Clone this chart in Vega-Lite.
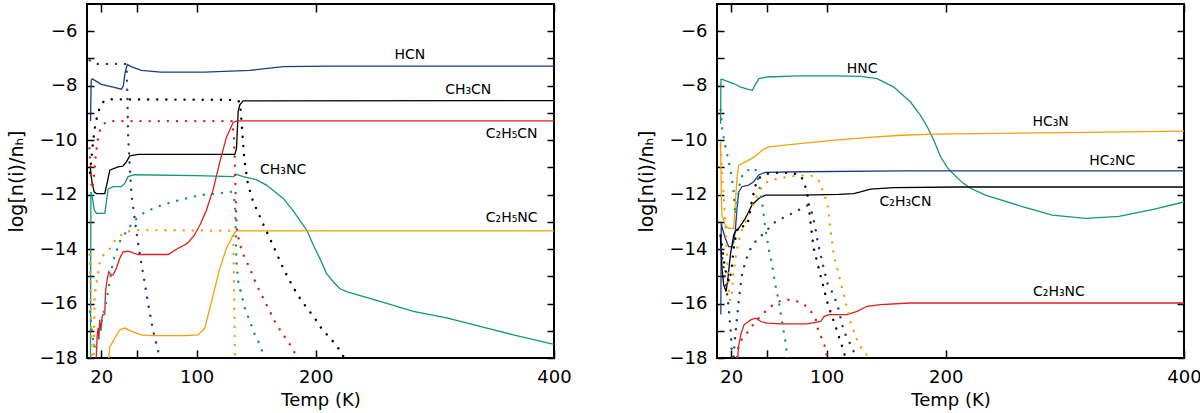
{
"$schema":"https://vega.github.io/schema/vega-lite/v6.json",
"padding":{"left":6,"top":2,"right":5,"bottom":0},
"spacing":63,
"datasets":{
"c":[
{"s":"HCN","f":"g","T":11,"v":-9.3},{"s":"HCN","f":"g","T":11.5,"v":-7.8},{"s":"HCN","f":"g","T":12.5,"v":-7.75},{"s":"HCN","f":"g","T":20,"v":-7.95},{"s":"HCN","f":"g","T":30,"v":-8.05},{"s":"HCN","f":"g","T":36.9,"v":-8.13},{"s":"HCN","f":"g","T":38.5,"v":-8.0},{"s":"HCN","f":"g","T":40,"v":-7.5},{"s":"HCN","f":"g","T":41.9,"v":-7.22},{"s":"HCN","f":"g","T":45,"v":-7.3},{"s":"HCN","f":"g","T":53.7,"v":-7.44},{"s":"HCN","f":"g","T":70,"v":-7.5},{"s":"HCN","f":"g","T":106.9,"v":-7.5},{"s":"HCN","f":"g","T":144.7,"v":-7.44},{"s":"HCN","f":"g","T":172.7,"v":-7.3},{"s":"HCN","f":"g","T":211.9,"v":-7.28},{"s":"HCN","f":"g","T":400,"v":-7.28},
{"s":"CH₃CN","f":"g","T":10.8,"v":-11.0},{"s":"CH₃CN","f":"g","T":12,"v":-11.5},{"s":"CH₃CN","f":"g","T":14,"v":-11.9},{"s":"CH₃CN","f":"g","T":15.9,"v":-11.96},{"s":"CH₃CN","f":"g","T":22.9,"v":-11.96},{"s":"CH₃CN","f":"g","T":25.1,"v":-11.53},{"s":"CH₃CN","f":"g","T":27.1,"v":-11.1},{"s":"CH₃CN","f":"g","T":34.1,"v":-10.98},{"s":"CH₃CN","f":"g","T":38.3,"v":-10.95},{"s":"CH₃CN","f":"g","T":41.1,"v":-10.8},{"s":"CH₃CN","f":"g","T":43.9,"v":-10.58},{"s":"CH₃CN","f":"g","T":50.9,"v":-10.52},{"s":"CH₃CN","f":"g","T":132.1,"v":-10.52},{"s":"CH₃CN","f":"g","T":133.5,"v":-10.3},{"s":"CH₃CN","f":"g","T":134.9,"v":-8.95},{"s":"CH₃CN","f":"g","T":136.3,"v":-8.7},{"s":"CH₃CN","f":"g","T":139.1,"v":-8.56},{"s":"CH₃CN","f":"g","T":400,"v":-8.55},
{"s":"C₂H₅CN","f":"g","T":15.5,"v":-18.3},{"s":"C₂H₅CN","f":"g","T":16.5,"v":-17.2},{"s":"C₂H₅CN","f":"g","T":17.3,"v":-16.9},{"s":"C₂H₅CN","f":"g","T":18,"v":-17.3},{"s":"C₂H₅CN","f":"g","T":18.7,"v":-16.6},{"s":"C₂H₅CN","f":"g","T":19.5,"v":-17.0},{"s":"C₂H₅CN","f":"g","T":20.1,"v":-16.8},{"s":"C₂H₅CN","f":"g","T":20.6,"v":-16.5},{"s":"C₂H₅CN","f":"g","T":21.5,"v":-16.4},{"s":"C₂H₅CN","f":"g","T":22.9,"v":-16.4},{"s":"C₂H₅CN","f":"g","T":23.5,"v":-15.6},{"s":"C₂H₅CN","f":"g","T":24.3,"v":-15.3},{"s":"C₂H₅CN","f":"g","T":25.7,"v":-14.95},{"s":"C₂H₅CN","f":"g","T":26.3,"v":-14.83},{"s":"C₂H₅CN","f":"g","T":28,"v":-14.95},{"s":"C₂H₅CN","f":"g","T":29.9,"v":-14.95},{"s":"C₂H₅CN","f":"g","T":32.7,"v":-14.7},{"s":"C₂H₅CN","f":"g","T":35.5,"v":-14.34},{"s":"C₂H₅CN","f":"g","T":38.3,"v":-14.1},{"s":"C₂H₅CN","f":"g","T":42.5,"v":-14.08},{"s":"C₂H₅CN","f":"g","T":50.9,"v":-14.2},{"s":"C₂H₅CN","f":"g","T":76.1,"v":-14.2},{"s":"C₂H₅CN","f":"g","T":84.5,"v":-13.97},{"s":"C₂H₅CN","f":"g","T":92,"v":-13.8},{"s":"C₂H₅CN","f":"g","T":98,"v":-13.5},{"s":"C₂H₅CN","f":"g","T":103,"v":-13.1},{"s":"C₂H₅CN","f":"g","T":108,"v":-12.6},{"s":"C₂H₅CN","f":"g","T":114,"v":-11.8},{"s":"C₂H₅CN","f":"g","T":119.5,"v":-10.8},{"s":"C₂H₅CN","f":"g","T":125,"v":-9.9},{"s":"C₂H₅CN","f":"g","T":130.7,"v":-9.35},{"s":"C₂H₅CN","f":"g","T":134,"v":-9.29},{"s":"C₂H₅CN","f":"g","T":400,"v":-9.29},
{"s":"CH₃NC","f":"g","T":10.9,"v":-18.3},{"s":"CH₃NC","f":"g","T":11.3,"v":-11.9},{"s":"CH₃NC","f":"g","T":12.5,"v":-12.1},{"s":"CH₃NC","f":"g","T":14,"v":-12.55},{"s":"CH₃NC","f":"g","T":15.9,"v":-12.69},{"s":"CH₃NC","f":"g","T":22.9,"v":-12.69},{"s":"CH₃NC","f":"g","T":24.3,"v":-12.26},{"s":"CH₃NC","f":"g","T":25.7,"v":-11.8},{"s":"CH₃NC","f":"g","T":29.9,"v":-11.71},{"s":"CH₃NC","f":"g","T":36.9,"v":-11.71},{"s":"CH₃NC","f":"g","T":39.7,"v":-11.59},{"s":"CH₃NC","f":"g","T":42.5,"v":-11.34},{"s":"CH₃NC","f":"g","T":48,"v":-11.27},{"s":"CH₃NC","f":"g","T":100,"v":-11.3},{"s":"CH₃NC","f":"g","T":130.7,"v":-11.34},{"s":"CH₃NC","f":"g","T":133.5,"v":-11.26},{"s":"CH₃NC","f":"g","T":139.1,"v":-11.34},{"s":"CH₃NC","f":"g","T":150,"v":-11.45},{"s":"CH₃NC","f":"g","T":158.7,"v":-11.65},{"s":"CH₃NC","f":"g","T":172.7,"v":-12.14},{"s":"CH₃NC","f":"g","T":181.1,"v":-12.6},{"s":"CH₃NC","f":"g","T":186.7,"v":-12.95},{"s":"CH₃NC","f":"g","T":192.8,"v":-13.33},{"s":"CH₃NC","f":"g","T":197.9,"v":-13.85},{"s":"CH₃NC","f":"g","T":203.5,"v":-14.35},{"s":"CH₃NC","f":"g","T":209.1,"v":-14.9},{"s":"CH₃NC","f":"g","T":214.7,"v":-15.2},{"s":"CH₃NC","f":"g","T":220,"v":-15.45},{"s":"CH₃NC","f":"g","T":225.9,"v":-15.56},{"s":"CH₃NC","f":"g","T":253.9,"v":-15.92},{"s":"CH₃NC","f":"g","T":281.9,"v":-16.29},{"s":"CH₃NC","f":"g","T":309.9,"v":-16.53},{"s":"CH₃NC","f":"g","T":337.9,"v":-16.84},{"s":"CH₃NC","f":"g","T":365.9,"v":-17.15},{"s":"CH₃NC","f":"g","T":400,"v":-17.5},
{"s":"C₂H₅NC","f":"g","T":25.5,"v":-18.3},{"s":"C₂H₅NC","f":"g","T":27.1,"v":-17.6},{"s":"C₂H₅NC","f":"g","T":31.3,"v":-17.27},{"s":"C₂H₅NC","f":"g","T":35.5,"v":-16.96},{"s":"C₂H₅NC","f":"g","T":39.7,"v":-16.9},{"s":"C₂H₅NC","f":"g","T":45.3,"v":-17.02},{"s":"C₂H₅NC","f":"g","T":53.7,"v":-17.15},{"s":"C₂H₅NC","f":"g","T":62.1,"v":-17.18},{"s":"C₂H₅NC","f":"g","T":90.1,"v":-17.18},{"s":"C₂H₅NC","f":"g","T":101.3,"v":-17.15},{"s":"C₂H₅NC","f":"g","T":106.9,"v":-16.9},{"s":"C₂H₅NC","f":"g","T":108.3,"v":-16.66},{"s":"C₂H₅NC","f":"g","T":113.9,"v":-15.68},{"s":"C₂H₅NC","f":"g","T":119.5,"v":-14.7},{"s":"C₂H₅NC","f":"g","T":125.1,"v":-13.97},{"s":"C₂H₅NC","f":"g","T":130.7,"v":-13.48},{"s":"C₂H₅NC","f":"g","T":133.5,"v":-13.33},{"s":"C₂H₅NC","f":"g","T":400,"v":-13.33},
{"s":"HCN","f":"i","T":10.3,"v":-7.07},{"s":"HCN","f":"i","T":14.5,"v":-7.2},{"s":"HCN","f":"i","T":41.1,"v":-7.2},{"s":"HCN","f":"i","T":41.9,"v":-8.35},{"s":"HCN","f":"i","T":42.5,"v":-9.8},{"s":"HCN","f":"i","T":43.9,"v":-10.96},{"s":"HCN","f":"i","T":45.3,"v":-12},{"s":"HCN","f":"i","T":48.1,"v":-12.9},{"s":"HCN","f":"i","T":50.9,"v":-13.8},{"s":"HCN","f":"i","T":55.1,"v":-14.9},{"s":"HCN","f":"i","T":59.3,"v":-16.0},{"s":"HCN","f":"i","T":63.5,"v":-17.0},{"s":"HCN","f":"i","T":69.1,"v":-18},{"s":"HCN","f":"i","T":70,"v":-18.3},
{"s":"CH₃CN","f":"i","T":10.5,"v":-11.2},{"s":"CH₃CN","f":"i","T":11.7,"v":-10.67},{"s":"CH₃CN","f":"i","T":13.1,"v":-10.06},{"s":"CH₃CN","f":"i","T":14.5,"v":-9.57},{"s":"CH₃CN","f":"i","T":17.3,"v":-8.96},{"s":"CH₃CN","f":"i","T":21.5,"v":-8.6},{"s":"CH₃CN","f":"i","T":25.7,"v":-8.5},{"s":"CH₃CN","f":"i","T":133,"v":-8.52},{"s":"CH₃CN","f":"i","T":136.5,"v":-8.6},{"s":"CH₃CN","f":"i","T":138,"v":-9.5},{"s":"CH₃CN","f":"i","T":140,"v":-10.7},{"s":"CH₃CN","f":"i","T":143,"v":-11.6},{"s":"CH₃CN","f":"i","T":147,"v":-12.2},{"s":"CH₃CN","f":"i","T":155,"v":-13.0},{"s":"CH₃CN","f":"i","T":164,"v":-13.85},{"s":"CH₃CN","f":"i","T":172.6,"v":-14.7},{"s":"CH₃CN","f":"i","T":181,"v":-15.4},{"s":"CH₃CN","f":"i","T":188,"v":-15.9},{"s":"CH₃CN","f":"i","T":195,"v":-16.3},{"s":"CH₃CN","f":"i","T":201,"v":-16.65},{"s":"CH₃CN","f":"i","T":206,"v":-17.0},{"s":"CH₃CN","f":"i","T":212,"v":-17.25},{"s":"CH₃CN","f":"i","T":220,"v":-17.7},{"s":"CH₃CN","f":"i","T":224,"v":-18},{"s":"CH₃CN","f":"i","T":226,"v":-18.3},
{"s":"C₂H₅CN","f":"i","T":10,"v":-10.3},{"s":"C₂H₅CN","f":"i","T":11,"v":-11},{"s":"C₂H₅CN","f":"i","T":12,"v":-11.8},{"s":"C₂H₅CN","f":"i","T":13.5,"v":-11.5},{"s":"C₂H₅CN","f":"i","T":15,"v":-10.7},{"s":"C₂H₅CN","f":"i","T":17,"v":-10},{"s":"C₂H₅CN","f":"i","T":19,"v":-9.6},{"s":"C₂H₅CN","f":"i","T":22,"v":-9.4},{"s":"C₂H₅CN","f":"i","T":26,"v":-9.3},{"s":"C₂H₅CN","f":"i","T":130,"v":-9.3},{"s":"C₂H₅CN","f":"i","T":131.5,"v":-10},{"s":"C₂H₅CN","f":"i","T":132.5,"v":-11.5},{"s":"C₂H₅CN","f":"i","T":133.5,"v":-13.2},{"s":"C₂H₅CN","f":"i","T":136,"v":-13.8},{"s":"C₂H₅CN","f":"i","T":140.5,"v":-14.34},{"s":"C₂H₅CN","f":"i","T":144.7,"v":-14.7},{"s":"C₂H₅CN","f":"i","T":150.3,"v":-15.31},{"s":"C₂H₅CN","f":"i","T":155.9,"v":-15.8},{"s":"C₂H₅CN","f":"i","T":161.5,"v":-16.29},{"s":"C₂H₅CN","f":"i","T":167.1,"v":-16.78},{"s":"C₂H₅CN","f":"i","T":172.7,"v":-17.14},{"s":"C₂H₅CN","f":"i","T":178.3,"v":-17.5},{"s":"C₂H₅CN","f":"i","T":183.9,"v":-17.93},{"s":"C₂H₅CN","f":"i","T":185,"v":-18.3},
{"s":"CH₃NC","f":"i","T":10.5,"v":-16.3},{"s":"CH₃NC","f":"i","T":12,"v":-17},{"s":"CH₃NC","f":"i","T":14,"v":-17.6},{"s":"CH₃NC","f":"i","T":16,"v":-17.5},{"s":"CH₃NC","f":"i","T":18.6,"v":-17.15},{"s":"CH₃NC","f":"i","T":21,"v":-16.5},{"s":"CH₃NC","f":"i","T":24.2,"v":-15.92},{"s":"CH₃NC","f":"i","T":27,"v":-15.19},{"s":"CH₃NC","f":"i","T":29.8,"v":-14.46},{"s":"CH₃NC","f":"i","T":35.4,"v":-13.73},{"s":"CH₃NC","f":"i","T":41,"v":-13.36},{"s":"CH₃NC","f":"i","T":46.6,"v":-13.0},{"s":"CH₃NC","f":"i","T":55,"v":-12.69},{"s":"CH₃NC","f":"i","T":66.2,"v":-12.45},{"s":"CH₃NC","f":"i","T":80.2,"v":-12.26},{"s":"CH₃NC","f":"i","T":102.6,"v":-12.02},{"s":"CH₃NC","f":"i","T":116.6,"v":-11.96},{"s":"CH₃NC","f":"i","T":129.3,"v":-11.9},{"s":"CH₃NC","f":"i","T":132.1,"v":-12.26},{"s":"CH₃NC","f":"i","T":133,"v":-13.48},{"s":"CH₃NC","f":"i","T":133.5,"v":-14.46},{"s":"CH₃NC","f":"i","T":134.9,"v":-15.19},{"s":"CH₃NC","f":"i","T":137.7,"v":-15.68},{"s":"CH₃NC","f":"i","T":140.5,"v":-16.17},{"s":"CH₃NC","f":"i","T":144.7,"v":-16.66},{"s":"CH₃NC","f":"i","T":148.9,"v":-17.15},{"s":"CH₃NC","f":"i","T":153.1,"v":-17.5},{"s":"CH₃NC","f":"i","T":155.9,"v":-17.88},{"s":"CH₃NC","f":"i","T":157,"v":-18.3},
{"s":"C₂H₅NC","f":"i","T":10.3,"v":-14.2},{"s":"C₂H₅NC","f":"i","T":11.2,"v":-16},{"s":"C₂H₅NC","f":"i","T":12,"v":-18.5},{"s":"C₂H₅NC","f":"i","T":13.5,"v":-18.5},{"s":"C₂H₅NC","f":"i","T":14.4,"v":-15.7},{"s":"C₂H₅NC","f":"i","T":18.6,"v":-14.5},{"s":"C₂H₅NC","f":"i","T":22,"v":-14.2},{"s":"C₂H₅NC","f":"i","T":27,"v":-14.0},{"s":"C₂H₅NC","f":"i","T":32.6,"v":-13.6},{"s":"C₂H₅NC","f":"i","T":41,"v":-13.36},{"s":"C₂H₅NC","f":"i","T":52,"v":-13.3},{"s":"C₂H₅NC","f":"i","T":130.8,"v":-13.33},{"s":"C₂H₅NC","f":"i","T":131.3,"v":-15},{"s":"C₂H₅NC","f":"i","T":131.8,"v":-16.5},{"s":"C₂H₅NC","f":"i","T":132.3,"v":-18.5},
{"s":"HNC","f":"g","T":11,"v":-9.4},{"s":"HNC","f":"g","T":11.3,"v":-7.77},{"s":"HNC","f":"g","T":12.5,"v":-7.77},{"s":"HNC","f":"g","T":16.7,"v":-7.84},{"s":"HNC","f":"g","T":22.3,"v":-7.93},{"s":"HNC","f":"g","T":27.9,"v":-8.05},{"s":"HNC","f":"g","T":33.5,"v":-8.13},{"s":"HNC","f":"g","T":37.7,"v":-8.17},{"s":"HNC","f":"g","T":40.5,"v":-7.93},{"s":"HNC","f":"g","T":43.3,"v":-7.74},{"s":"HNC","f":"g","T":50.3,"v":-7.68},{"s":"HNC","f":"g","T":75.5,"v":-7.64},{"s":"HNC","f":"g","T":106.3,"v":-7.64},{"s":"HNC","f":"g","T":128.4,"v":-7.66},{"s":"HNC","f":"g","T":142.4,"v":-7.74},{"s":"HNC","f":"g","T":156.4,"v":-8.05},{"s":"HNC","f":"g","T":170.4,"v":-8.6},{"s":"HNC","f":"g","T":178.8,"v":-9.09},{"s":"HNC","f":"g","T":184.4,"v":-9.5},{"s":"HNC","f":"g","T":190,"v":-10.0},{"s":"HNC","f":"g","T":195.6,"v":-10.6},{"s":"HNC","f":"g","T":201.2,"v":-11.0},{"s":"HNC","f":"g","T":205.4,"v":-11.2},{"s":"HNC","f":"g","T":213.8,"v":-11.55},{"s":"HNC","f":"g","T":220,"v":-11.75},{"s":"HNC","f":"g","T":233.4,"v":-12.02},{"s":"HNC","f":"g","T":261.4,"v":-12.4},{"s":"HNC","f":"g","T":289.4,"v":-12.75},{"s":"HNC","f":"g","T":317.4,"v":-12.87},{"s":"HNC","f":"g","T":345.4,"v":-12.8},{"s":"HNC","f":"g","T":373.4,"v":-12.55},{"s":"HNC","f":"g","T":400,"v":-12.27},
{"s":"HC₃N","f":"g","T":11,"v":-10.06},{"s":"HC₃N","f":"g","T":11.6,"v":-12.0},{"s":"HC₃N","f":"g","T":12.2,"v":-12.75},{"s":"HC₃N","f":"g","T":15,"v":-13.12},{"s":"HC₃N","f":"g","T":17.8,"v":-13.24},{"s":"HC₃N","f":"g","T":22,"v":-13.24},{"s":"HC₃N","f":"g","T":23.4,"v":-12.26},{"s":"HC₃N","f":"g","T":24.8,"v":-11.4},{"s":"HC₃N","f":"g","T":26.2,"v":-10.92},{"s":"HC₃N","f":"g","T":31.8,"v":-10.8},{"s":"HC₃N","f":"g","T":37.4,"v":-10.67},{"s":"HC₃N","f":"g","T":43,"v":-10.49},{"s":"HC₃N","f":"g","T":45.8,"v":-10.37},{"s":"HC₃N","f":"g","T":51.4,"v":-10.25},{"s":"HC₃N","f":"g","T":79.4,"v":-10.12},{"s":"HC₃N","f":"g","T":107.4,"v":-10.0},{"s":"HC₃N","f":"g","T":135.4,"v":-9.9},{"s":"HC₃N","f":"g","T":163.4,"v":-9.82},{"s":"HC₃N","f":"g","T":190,"v":-9.78},{"s":"HC₃N","f":"g","T":228,"v":-9.76},{"s":"HC₃N","f":"g","T":300,"v":-9.72},{"s":"HC₃N","f":"g","T":400,"v":-9.67},
{"s":"HC₂NC","f":"g","T":11.2,"v":-16.4},{"s":"HC₂NC","f":"g","T":11.6,"v":-13.0},{"s":"HC₂NC","f":"g","T":12.2,"v":-13.2},{"s":"HC₂NC","f":"g","T":15,"v":-13.6},{"s":"HC₂NC","f":"g","T":17.8,"v":-13.91},{"s":"HC₂NC","f":"g","T":20.6,"v":-13.91},{"s":"HC₂NC","f":"g","T":22,"v":-13.73},{"s":"HC₂NC","f":"g","T":23.4,"v":-13.3},{"s":"HC₂NC","f":"g","T":24.8,"v":-12.5},{"s":"HC₂NC","f":"g","T":26.2,"v":-11.9},{"s":"HC₂NC","f":"g","T":29,"v":-11.71},{"s":"HC₂NC","f":"g","T":34.6,"v":-11.65},{"s":"HC₂NC","f":"g","T":38.8,"v":-11.53},{"s":"HC₂NC","f":"g","T":43,"v":-11.28},{"s":"HC₂NC","f":"g","T":48.6,"v":-11.18},{"s":"HC₂NC","f":"g","T":79.4,"v":-11.16},{"s":"HC₂NC","f":"g","T":163.4,"v":-11.13},{"s":"HC₂NC","f":"g","T":400,"v":-11.13},
{"s":"C₂H₃CN","f":"g","T":10.8,"v":-13.48},{"s":"C₂H₃CN","f":"g","T":12.2,"v":-14.7},{"s":"C₂H₃CN","f":"g","T":13.6,"v":-15.31},{"s":"C₂H₃CN","f":"g","T":15.6,"v":-15.56},{"s":"C₂H₃CN","f":"g","T":17.2,"v":-15.07},{"s":"C₂H₃CN","f":"g","T":19.2,"v":-14.22},{"s":"C₂H₃CN","f":"g","T":20.6,"v":-13.85},{"s":"C₂H₃CN","f":"g","T":22,"v":-13.48},{"s":"C₂H₃CN","f":"g","T":23.4,"v":-13.36},{"s":"C₂H₃CN","f":"g","T":26.2,"v":-13.24},{"s":"C₂H₃CN","f":"g","T":29,"v":-13.06},{"s":"C₂H₃CN","f":"g","T":31.8,"v":-12.87},{"s":"C₂H₃CN","f":"g","T":34.6,"v":-12.63},{"s":"C₂H₃CN","f":"g","T":37.4,"v":-12.38},{"s":"C₂H₃CN","f":"g","T":40.2,"v":-12.26},{"s":"C₂H₃CN","f":"g","T":43,"v":-12.14},{"s":"C₂H₃CN","f":"g","T":48.6,"v":-12.02},{"s":"C₂H₃CN","f":"g","T":79.4,"v":-12.02},{"s":"C₂H₃CN","f":"g","T":110,"v":-11.99},{"s":"C₂H₃CN","f":"g","T":122.8,"v":-11.96},{"s":"C₂H₃CN","f":"g","T":128.4,"v":-11.9},{"s":"C₂H₃CN","f":"g","T":136.8,"v":-11.8},{"s":"C₂H₃CN","f":"g","T":156.4,"v":-11.74},{"s":"C₂H₃CN","f":"g","T":210,"v":-11.72},{"s":"C₂H₃CN","f":"g","T":400,"v":-11.72},
{"s":"C₂H₃NC","f":"g","T":25,"v":-18.3},{"s":"C₂H₃NC","f":"g","T":26,"v":-17.6},{"s":"C₂H₃NC","f":"g","T":27.9,"v":-17.15},{"s":"C₂H₃NC","f":"g","T":30.7,"v":-16.78},{"s":"C₂H₃NC","f":"g","T":36.3,"v":-16.6},{"s":"C₂H₃NC","f":"g","T":40.5,"v":-16.54},{"s":"C₂H₃NC","f":"g","T":44.7,"v":-16.66},{"s":"C₂H₃NC","f":"g","T":50.3,"v":-16.72},{"s":"C₂H₃NC","f":"g","T":61.5,"v":-16.75},{"s":"C₂H₃NC","f":"g","T":83.9,"v":-16.75},{"s":"C₂H₃NC","f":"g","T":95.1,"v":-16.66},{"s":"C₂H₃NC","f":"g","T":97.9,"v":-16.47},{"s":"C₂H₃NC","f":"g","T":102.1,"v":-16.41},{"s":"C₂H₃NC","f":"g","T":117.2,"v":-16.41},{"s":"C₂H₃NC","f":"g","T":125.6,"v":-16.29},{"s":"C₂H₃NC","f":"g","T":134,"v":-16.1},{"s":"C₂H₃NC","f":"g","T":145.2,"v":-16.04},{"s":"C₂H₃NC","f":"g","T":170.4,"v":-15.98},{"s":"C₂H₃NC","f":"g","T":400,"v":-15.98},
{"s":"HNC","f":"i","T":11,"v":-8.9},{"s":"HNC","f":"i","T":12.5,"v":-9.64},{"s":"HNC","f":"i","T":13.9,"v":-10.0},{"s":"HNC","f":"i","T":16.7,"v":-10.55},{"s":"HNC","f":"i","T":19.5,"v":-11.16},{"s":"HNC","f":"i","T":21.7,"v":-11.77},{"s":"HNC","f":"i","T":22.8,"v":-12.38},{"s":"HNC","f":"i","T":23.7,"v":-12.75},{"s":"HNC","f":"i","T":25.1,"v":-12.26},{"s":"HNC","f":"i","T":26.5,"v":-11.77},{"s":"HNC","f":"i","T":27.9,"v":-11.41},{"s":"HNC","f":"i","T":30.7,"v":-11.2},{"s":"HNC","f":"i","T":33.5,"v":-11.1},{"s":"HNC","f":"i","T":37,"v":-11.1},{"s":"HNC","f":"i","T":40.2,"v":-11.04},{"s":"HNC","f":"i","T":43,"v":-11.53},{"s":"HNC","f":"i","T":45.8,"v":-12.26},{"s":"HNC","f":"i","T":48.6,"v":-13.24},{"s":"HNC","f":"i","T":51.4,"v":-13.97},{"s":"HNC","f":"i","T":54.2,"v":-14.58},{"s":"HNC","f":"i","T":57,"v":-15.31},{"s":"HNC","f":"i","T":59.8,"v":-15.92},{"s":"HNC","f":"i","T":62.6,"v":-16.66},{"s":"HNC","f":"i","T":65.4,"v":-17.39},{"s":"HNC","f":"i","T":66.8,"v":-17.88},{"s":"HNC","f":"i","T":67.6,"v":-18.3},
{"s":"HC₃N","f":"i","T":11,"v":-10.2},{"s":"HC₃N","f":"i","T":12.2,"v":-11.0},{"s":"HC₃N","f":"i","T":13.5,"v":-12.0},{"s":"HC₃N","f":"i","T":15,"v":-13.0},{"s":"HC₃N","f":"i","T":16.5,"v":-14.3},{"s":"HC₃N","f":"i","T":17.8,"v":-15.5},{"s":"HC₃N","f":"i","T":19,"v":-15.9},{"s":"HC₃N","f":"i","T":20.5,"v":-15.6},{"s":"HC₃N","f":"i","T":22,"v":-14.8},{"s":"HC₃N","f":"i","T":24,"v":-14.2},{"s":"HC₃N","f":"i","T":26.2,"v":-13.7},{"s":"HC₃N","f":"i","T":29,"v":-13.3},{"s":"HC₃N","f":"i","T":33,"v":-12.9},{"s":"HC₃N","f":"i","T":37,"v":-12.5},{"s":"HC₃N","f":"i","T":41,"v":-12.1},{"s":"HC₃N","f":"i","T":46,"v":-11.7},{"s":"HC₃N","f":"i","T":51,"v":-11.5},{"s":"HC₃N","f":"i","T":60,"v":-11.4},{"s":"HC₃N","f":"i","T":75,"v":-11.3},{"s":"HC₃N","f":"i","T":87,"v":-11.3},{"s":"HC₃N","f":"i","T":92,"v":-11.4},{"s":"HC₃N","f":"i","T":95,"v":-11.6},{"s":"HC₃N","f":"i","T":97,"v":-11.9},{"s":"HC₃N","f":"i","T":100.4,"v":-12.26},{"s":"HC₃N","f":"i","T":101.8,"v":-12.75},{"s":"HC₃N","f":"i","T":103.2,"v":-13.24},{"s":"HC₃N","f":"i","T":104.6,"v":-13.73},{"s":"HC₃N","f":"i","T":106,"v":-14.22},{"s":"HC₃N","f":"i","T":108.8,"v":-14.7},{"s":"HC₃N","f":"i","T":111.6,"v":-15.19},{"s":"HC₃N","f":"i","T":114.4,"v":-15.68},{"s":"HC₃N","f":"i","T":117.2,"v":-16.17},{"s":"HC₃N","f":"i","T":120,"v":-16.66},{"s":"HC₃N","f":"i","T":122.8,"v":-17.02},{"s":"HC₃N","f":"i","T":127,"v":-17.5},{"s":"HC₃N","f":"i","T":131.2,"v":-17.75},{"s":"HC₃N","f":"i","T":136,"v":-18.0},{"s":"HC₃N","f":"i","T":137,"v":-18.3},
{"s":"HC₂NC","f":"i","T":11.5,"v":-14.0},{"s":"HC₂NC","f":"i","T":14,"v":-14.8},{"s":"HC₂NC","f":"i","T":17,"v":-15.8},{"s":"HC₂NC","f":"i","T":19.5,"v":-17.0},{"s":"HC₂NC","f":"i","T":21,"v":-18.3},{"s":"HC₂NC","f":"i","T":22,"v":-17.88},{"s":"HC₂NC","f":"i","T":23.4,"v":-17.15},{"s":"HC₂NC","f":"i","T":24.8,"v":-16.53},{"s":"HC₂NC","f":"i","T":26.2,"v":-15.92},{"s":"HC₂NC","f":"i","T":27.5,"v":-15.43},{"s":"HC₂NC","f":"i","T":29,"v":-14.95},{"s":"HC₂NC","f":"i","T":31.8,"v":-14.46},{"s":"HC₂NC","f":"i","T":36,"v":-14.0},{"s":"HC₂NC","f":"i","T":40.2,"v":-13.73},{"s":"HC₂NC","f":"i","T":45.8,"v":-13.48},{"s":"HC₂NC","f":"i","T":51.4,"v":-13.24},{"s":"HC₂NC","f":"i","T":57,"v":-13.0},{"s":"HC₂NC","f":"i","T":62.6,"v":-12.87},{"s":"HC₂NC","f":"i","T":68.2,"v":-12.75},{"s":"HC₂NC","f":"i","T":73.8,"v":-12.63},{"s":"HC₂NC","f":"i","T":79.4,"v":-12.5},{"s":"HC₂NC","f":"i","T":83.6,"v":-12.4},{"s":"HC₂NC","f":"i","T":86,"v":-12.45},{"s":"HC₂NC","f":"i","T":88,"v":-12.7},{"s":"HC₂NC","f":"i","T":90.5,"v":-13.2},{"s":"HC₂NC","f":"i","T":93,"v":-13.85},{"s":"HC₂NC","f":"i","T":95.5,"v":-14.3},{"s":"HC₂NC","f":"i","T":98,"v":-14.8},{"s":"HC₂NC","f":"i","T":101,"v":-15.3},{"s":"HC₂NC","f":"i","T":106,"v":-15.68},{"s":"HC₂NC","f":"i","T":110,"v":-16.2},{"s":"HC₂NC","f":"i","T":113,"v":-16.78},{"s":"HC₂NC","f":"i","T":116,"v":-17.15},{"s":"HC₂NC","f":"i","T":120,"v":-17.5},{"s":"HC₂NC","f":"i","T":124,"v":-17.88},{"s":"HC₂NC","f":"i","T":127,"v":-18.3},
{"s":"C₂H₃CN","f":"i","T":11,"v":-13.5},{"s":"C₂H₃CN","f":"i","T":12.5,"v":-14.0},{"s":"C₂H₃CN","f":"i","T":14,"v":-14.5},{"s":"C₂H₃CN","f":"i","T":16,"v":-15.0},{"s":"C₂H₃CN","f":"i","T":18.5,"v":-15.2},{"s":"C₂H₃CN","f":"i","T":20.5,"v":-14.6},{"s":"C₂H₃CN","f":"i","T":22.5,"v":-13.8},{"s":"C₂H₃CN","f":"i","T":25,"v":-13.3},{"s":"C₂H₃CN","f":"i","T":28,"v":-13.1},{"s":"C₂H₃CN","f":"i","T":31,"v":-13.2},{"s":"C₂H₃CN","f":"i","T":34,"v":-13.0},{"s":"C₂H₃CN","f":"i","T":37,"v":-12.3},{"s":"C₂H₃CN","f":"i","T":40,"v":-11.7},{"s":"C₂H₃CN","f":"i","T":43,"v":-11.4},{"s":"C₂H₃CN","f":"i","T":48,"v":-11.25},{"s":"C₂H₃CN","f":"i","T":55,"v":-11.2},{"s":"C₂H₃CN","f":"i","T":70,"v":-11.2},{"s":"C₂H₃CN","f":"i","T":78,"v":-11.28},{"s":"C₂H₃CN","f":"i","T":80.8,"v":-11.53},{"s":"C₂H₃CN","f":"i","T":83.6,"v":-11.9},{"s":"C₂H₃CN","f":"i","T":85,"v":-12.38},{"s":"C₂H₃CN","f":"i","T":86.4,"v":-13.0},{"s":"C₂H₃CN","f":"i","T":87.8,"v":-13.48},{"s":"C₂H₃CN","f":"i","T":89.2,"v":-13.97},{"s":"C₂H₃CN","f":"i","T":92,"v":-14.46},{"s":"C₂H₃CN","f":"i","T":94.8,"v":-14.95},{"s":"C₂H₃CN","f":"i","T":97.6,"v":-15.43},{"s":"C₂H₃CN","f":"i","T":100.4,"v":-15.92},{"s":"C₂H₃CN","f":"i","T":104,"v":-16.41},{"s":"C₂H₃CN","f":"i","T":108,"v":-16.9},{"s":"C₂H₃CN","f":"i","T":111.6,"v":-17.39},{"s":"C₂H₃CN","f":"i","T":114.4,"v":-17.75},{"s":"C₂H₃CN","f":"i","T":117,"v":-18.3},
{"s":"C₂H₃NC","f":"i","T":24,"v":-18.3},{"s":"C₂H₃NC","f":"i","T":26,"v":-17.6},{"s":"C₂H₃NC","f":"i","T":29,"v":-17.3},{"s":"C₂H₃NC","f":"i","T":34.6,"v":-17.0},{"s":"C₂H₃NC","f":"i","T":40.2,"v":-16.66},{"s":"C₂H₃NC","f":"i","T":45.8,"v":-16.41},{"s":"C₂H₃NC","f":"i","T":51.4,"v":-16.17},{"s":"C₂H₃NC","f":"i","T":57,"v":-15.98},{"s":"C₂H₃NC","f":"i","T":64,"v":-15.86},{"s":"C₂H₃NC","f":"i","T":71,"v":-15.86},{"s":"C₂H₃NC","f":"i","T":79.4,"v":-15.98},{"s":"C₂H₃NC","f":"i","T":85,"v":-16.17},{"s":"C₂H₃NC","f":"i","T":90.6,"v":-16.53},{"s":"C₂H₃NC","f":"i","T":93,"v":-17.0},{"s":"C₂H₃NC","f":"i","T":96.2,"v":-17.3},{"s":"C₂H₃NC","f":"i","T":99,"v":-17.63},{"s":"C₂H₃NC","f":"i","T":100.4,"v":-18},{"s":"C₂H₃NC","f":"i","T":101,"v":-18.3}
],
"lab":[
{"p":"L","t":"HCN","T":279,"v":-6.89},{"p":"L","t":"CH₃CN","T":328,"v":-8.17},{"p":"L","t":"C₂H₅CN","T":364.5,"v":-9.76},{"p":"L","t":"CH₃NC","T":172.6,"v":-11.1},{"p":"L","t":"C₂H₅NC","T":364.5,"v":-12.87},
{"p":"R","t":"HNC","T":129.8,"v":-7.38},{"p":"R","t":"HC₃N","T":288,"v":-9.33},{"p":"R","t":"HC₂NC","T":339.8,"v":-10.77},{"p":"R","t":"C₂H₃CN","T":166.2,"v":-12.26},{"p":"R","t":"C₂H₃NC","T":295,"v":-15.56}
]
},
"hconcat":[
{"width":467,"height":354,
"layer":[
{"data":{"name":"c"},"transform":[{"filter":{"field":"s","oneOf":["HCN","CH₃CN","C₂H₅CN","CH₃NC","C₂H₅NC"]}},{"filter":"datum.f=='g'"}],
"mark":{"type":"line","strokeWidth":1.3,"clip":true},
"encoding":{
"x":{"field":"T","type":"quantitative","scale":{"domain":[8,400],"nice":false,"zero":false},"axis":{"values":[20,50,100,200,400],"labelExpr":"datum.value==50?'':datum.label","tickSize":-8,"labelPadding":18,"title":"Temp (K)","titlePadding":5}},
"y":{"field":"v","type":"quantitative","scale":{"domain":[-18,-5],"nice":false,"zero":false},"axis":{"values":[-18,-17,-16,-15,-14,-13,-12,-11,-10,-9,-8,-7,-6],"labelExpr":"datum.value%2==0?datum.label:''","tickSize":-7,"labelPadding":17,"title":"log[n(i)/nₕ]","titlePadding":13,"titleFontSize":19}},
"color":{"field":"s","type":"nominal","legend":null,"scale":{"domain":["HCN","CH₃CN","C₂H₅CN","CH₃NC","C₂H₅NC","HNC","HC₃N","HC₂NC","C₂H₃CN","C₂H₃NC"],"range":["#1c3d7a","#000000","#dc1f1f","#13967a","#f2a10c","#13967a","#f2a10c","#1c3d7a","#000000","#dc1f1f"]}}}},
{"data":{"name":"c"},"transform":[{"filter":{"field":"s","oneOf":["HCN","CH₃CN","C₂H₅CN","CH₃NC","C₂H₅NC"]}},{"filter":"datum.f=='i'"}],
"mark":{"type":"line","strokeWidth":2.4,"strokeDash":[0.1,9],"strokeCap":"round","clip":true},
"encoding":{
"x":{"field":"T","type":"quantitative","axis":null},
"y":{"field":"v","type":"quantitative","axis":null},
"color":{"field":"s","type":"nominal","legend":null}}},
{"data":{"name":"lab"},"transform":[{"filter":"datum.p=='L'"}],
"mark":{"type":"text","font":"DejaVu Sans","fontSize":14,"color":"#000","align":"center","baseline":"middle"},
"encoding":{
"x":{"field":"T","type":"quantitative","axis":{"orient":"top","values":[20,50,100,200,400],"labels":false,"tickSize":-8,"title":null}},
"y":{"field":"v","type":"quantitative","axis":{"orient":"right","values":[-18,-17,-16,-15,-14,-13,-12,-11,-10,-9,-8,-7,-6],"labels":false,"tickSize":-7,"title":null}},
"text":{"field":"t"}}}
],
"resolve":{"axis":{"x":"independent","y":"independent"}}},
{"width":467,"height":354,
"layer":[
{"data":{"name":"c"},"transform":[{"filter":{"field":"s","oneOf":["HNC","HC₃N","HC₂NC","C₂H₃CN","C₂H₃NC"]}},{"filter":"datum.f=='g'"}],
"mark":{"type":"line","strokeWidth":1.3,"clip":true},
"encoding":{
"x":{"field":"T","type":"quantitative","scale":{"domain":[8,400],"nice":false,"zero":false},"axis":{"values":[20,50,100,200,400],"labelExpr":"datum.value==50?'':datum.label","tickSize":-8,"labelPadding":18,"title":"Temp (K)","titlePadding":5}},
"y":{"field":"v","type":"quantitative","scale":{"domain":[-18,-5],"nice":false,"zero":false},"axis":{"values":[-18,-17,-16,-15,-14,-13,-12,-11,-10,-9,-8,-7,-6],"labelExpr":"datum.value%2==0?datum.label:''","tickSize":-7,"labelPadding":17,"title":"log[n(i)/nₕ]","titlePadding":13,"titleFontSize":19}},
"color":{"field":"s","type":"nominal","legend":null}}},
{"data":{"name":"c"},"transform":[{"filter":{"field":"s","oneOf":["HNC","HC₃N","HC₂NC","C₂H₃CN","C₂H₃NC"]}},{"filter":"datum.f=='i'"}],
"mark":{"type":"line","strokeWidth":2.4,"strokeDash":[0.1,9],"strokeCap":"round","clip":true},
"encoding":{
"x":{"field":"T","type":"quantitative","axis":null},
"y":{"field":"v","type":"quantitative","axis":null},
"color":{"field":"s","type":"nominal","legend":null}}},
{"data":{"name":"lab"},"transform":[{"filter":"datum.p=='R'"}],
"mark":{"type":"text","font":"DejaVu Sans","fontSize":14,"color":"#000","align":"center","baseline":"middle"},
"encoding":{
"x":{"field":"T","type":"quantitative","axis":{"orient":"top","values":[20,50,100,200,400],"labels":false,"tickSize":-8,"title":null}},
"y":{"field":"v","type":"quantitative","axis":{"orient":"right","values":[-18,-17,-16,-15,-14,-13,-12,-11,-10,-9,-8,-7,-6],"labels":false,"tickSize":-7,"title":null}},
"text":{"field":"t"}}}
],
"resolve":{"axis":{"x":"independent","y":"independent"}}}
],
"resolve":{"scale":{"color":"shared"}},
"config":{
"view":{"stroke":"#000","strokeWidth":2},
"axis":{"grid":false,"domain":false,"tickColor":"#000","tickWidth":1.5,"labelColor":"#000","labelFont":"DejaVu Sans","labelFontSize":18,"titleFont":"DejaVu Sans","titleFontSize":18,"titleFontWeight":"normal","titleColor":"#000","labelFlush":false,"labelOverlap":false}
}
}
